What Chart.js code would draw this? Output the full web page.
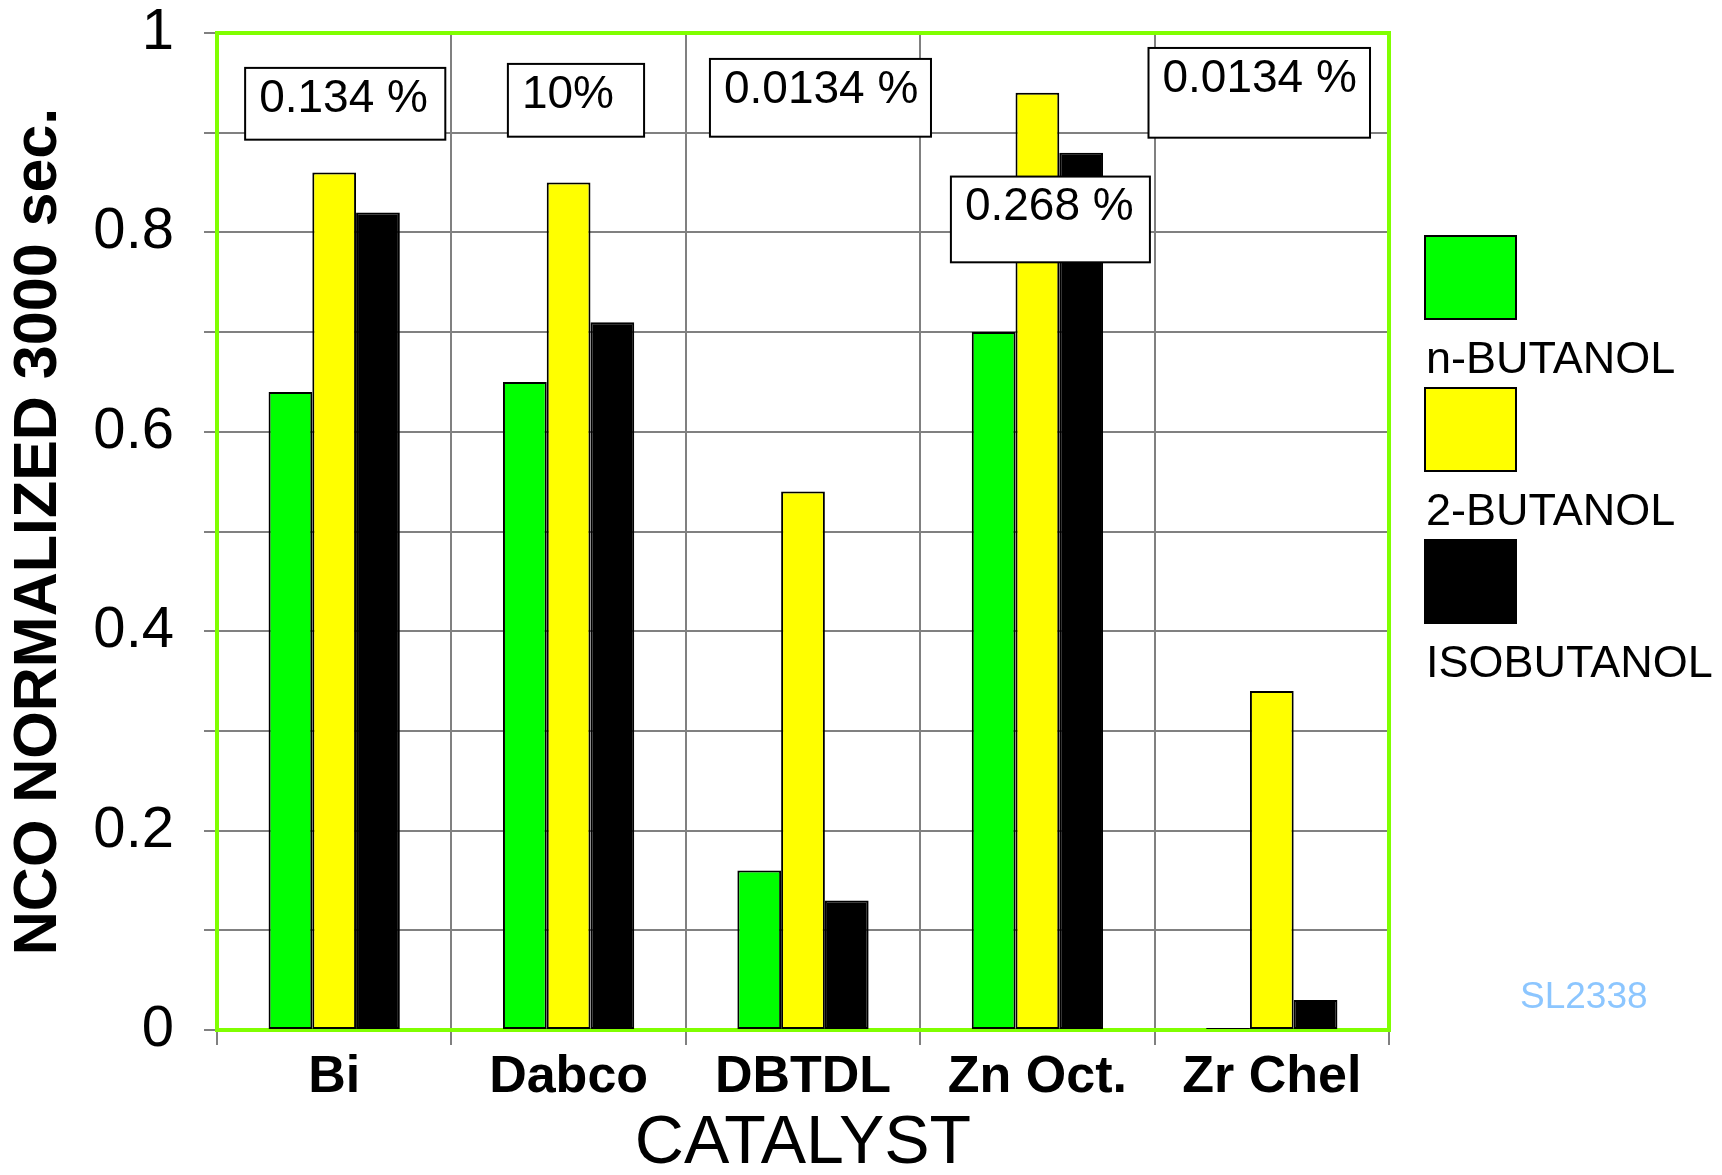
<!DOCTYPE html>
<html>
<head>
<meta charset="utf-8">
<script src="https://cdn.jsdelivr.net/npm/chart.js@4.4.0/dist/chart.umd.min.js"></script>
<style>
    body { margin: 0; background: #ffffff; }
    #caixa_grafico { width: 1722px; height: 1175px; }
</style>
</head>
<body>
<div id="caixa_grafico"><canvas id="grafico_nco"></canvas></div>
<script>
    const categorias = ['Bi', 'Dabco', 'DBTDL', 'Zn Oct.', 'Zr Chel'];
    const n_butanol = [0.64, 0.65, 0.16, 0.70, 0.002];
    const dois_butanol = [0.86, 0.85, 0.54, 0.94, 0.34];
    const isobutanol = [0.82, 0.71, 0.13, 0.88, 0.03];
    const concentracoes = ['0.134 %', '10%', '0.0134 %', '0.268 %', '0.0134 %'];
    const rotulos_y = ['0', '0.2', '0.4', '0.6', '0.8', '1'];

    const fonte = "'Liberation Sans', Arial, Helvetica, sans-serif";

    // posicao das caixas de texto: deslocamento em categorias (x) e valor do eixo (y)
    const caixas = [
        {x0: -0.380, x1: 0.474, yTopo: 0.965, yBase: 0.893},
        {x0: -0.259, x1: 0.322, yTopo: 0.969, yBase: 0.896},
        {x0: -0.397, x1: 0.546, yTopo: 0.974, yBase: 0.896},
        {x0: -0.369, x1: 0.480, yTopo: 0.856, yBase: 0.770},
        {x0: -0.526, x1: 0.419, yTopo: 0.985, yBase: 0.895}
    ];

    const moldura = {
        id: 'moldura',
        beforeDatasetsDraw(chart) {
            const {ctx, chartArea: a} = chart;
            ctx.save();
            ctx.strokeStyle = '#80ff00';
            ctx.lineWidth = 4;
            ctx.strokeRect(a.left, a.top, a.right - a.left, a.bottom - a.top);
            ctx.restore();
        }
    };

    const caixasTexto = {
        id: 'caixasTexto',
        afterDatasetsDraw(chart) {
            const {ctx, scales: {x, y}} = chart;
            const largura = x.getPixelForValue(1) - x.getPixelForValue(0);
            ctx.save();
            ctx.font = '46px ' + fonte;
            ctx.textBaseline = 'middle';
            ctx.textAlign = 'left';
            ctx.lineWidth = 2;
            concentracoes.forEach((texto, i) => {
                const c = caixas[i];
                const centro = x.getPixelForValue(i);
                const esq = centro + c.x0 * largura;
                const dir = centro + c.x1 * largura;
                const topo = y.getPixelForValue(c.yTopo);
                const base = y.getPixelForValue(c.yBase);
                ctx.fillStyle = '#ffffff';
                ctx.fillRect(esq, topo, dir - esq, base - topo);
                ctx.strokeStyle = '#000000';
                ctx.strokeRect(esq, topo, dir - esq, base - topo);
                ctx.fillStyle = '#000000';
                ctx.fillText(texto, esq + 14, topo + 31);
            });
            ctx.restore();
        }
    };

    const legenda = {
        id: 'legenda',
        afterDraw(chart) {
            const {ctx, chartArea: a} = chart;
            const x0 = a.right + 36;
            let y0 = 236;
            ctx.save();
            ctx.font = '45px ' + fonte;
            ctx.textBaseline = 'middle';
            ctx.textAlign = 'left';
            chart.data.datasets.forEach(ds => {
                ctx.fillStyle = ds.backgroundColor;
                ctx.fillRect(x0, y0, 91, 83);
                ctx.strokeStyle = '#000000';
                ctx.lineWidth = 2;
                ctx.strokeRect(x0, y0, 91, 83);
                ctx.fillStyle = '#000000';
                ctx.fillText(ds.label, x0 + 1, y0 + 125);
                y0 += 152;
            });
            ctx.font = '37px ' + fonte;
            ctx.fillStyle = '#8cc6ff';
            ctx.fillText('SL2338', a.right + 131, 998);
            ctx.restore();
        }
    };

    const ctx_nco = document.getElementById('grafico_nco');

    new Chart(ctx_nco, {
        type: 'bar',
        data: {
            labels: categorias,
            datasets: [{
                label: 'n-BUTANOL',
                data: n_butanol,
                backgroundColor: '#00ff00'
            }, {
                label: '2-BUTANOL',
                data: dois_butanol,
                backgroundColor: '#ffff00'
            }, {
                label: 'ISOBUTANOL',
                data: isobutanol,
                backgroundColor: '#000000'
            }]
        },
        options: {
            responsive: true,
            maintainAspectRatio: false,
            animation: false,
            devicePixelRatio: 1,
            layout: {
                padding: {top: 33, right: 333, bottom: 0, left: 0}
            },
            datasets: {
                bar: {
                    borderColor: '#000000',
                    borderWidth: 2,
                    borderSkipped: false,
                    categoryPercentage: 0.56,
                    barPercentage: 1.0
                }
            },
            plugins: {
                legend: {display: false},
                tooltip: {enabled: false}
            },
            scales: {
                x: {
                    afterFit(scale) {
                        scale.height = 145;
                        scale.paddingLeft = 0;
                        scale.paddingRight = 0;
                    },
                    grid: {
                        color: '#808080',
                        lineWidth: 2,
                        tickLength: 15,
                        tickColor: '#808080'
                    },
                    border: {display: false},
                    ticks: {
                        autoSkip: false,
                        maxRotation: 0,
                        padding: 1,
                        color: '#000000',
                        font: {family: fonte, size: 52, weight: 'bold'}
                    },
                    title: {
                        display: true,
                        text: 'CATALYST',
                        color: '#000000',
                        padding: 0,
                        font: {family: fonte, size: 68, lineHeight: 0.9}
                    }
                },
                y: {
                    min: 0,
                    max: 1,
                    afterFit(scale) {
                        scale.width = 217;
                        scale.paddingTop = 0;
                        scale.paddingBottom = 0;
                    },
                    grid: {
                        color: '#808080',
                        lineWidth: 2,
                        tickLength: 13,
                        tickColor: '#808080'
                    },
                    border: {display: false},
                    ticks: {
                        stepSize: 0.1,
                        padding: 30,
                        color: '#000000',
                        font: {family: fonte, size: 58},
                        callback: function (valor) {
                            const passo = Math.round(valor * 10);
                            return passo % 2 === 0 ? rotulos_y[passo / 2] : '';
                        }
                    },
                    title: {
                        display: true,
                        text: 'NCO NORMALIZED 3000 sec.',
                        color: '#000000',
                        padding: {top: 3, bottom: 0},
                        font: {family: fonte, size: 61, weight: 'bold'}
                    }
                }
            }
        },
        plugins: [moldura, caixasTexto, legenda]
    });
</script>
</body>
</html>
